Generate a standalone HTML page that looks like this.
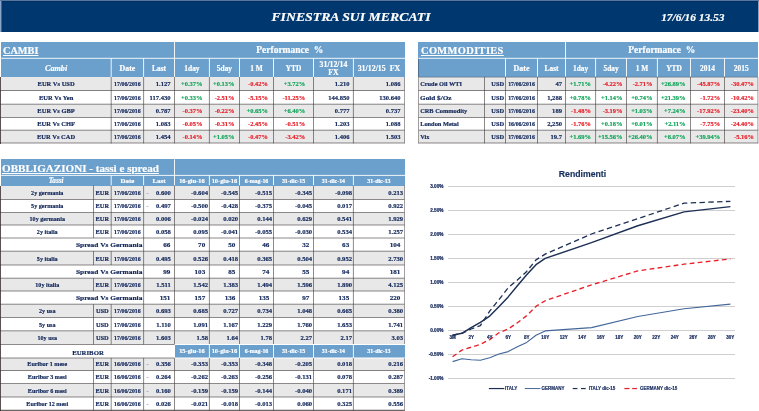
<!DOCTYPE html>
<html><head><meta charset="utf-8"><title>Finestra sui mercati</title>
<style>
html,body{margin:0;padding:0;background:#fff;}
body{width:759px;height:411px;position:relative;overflow:hidden;font-family:"Liberation Serif",serif;font-weight:bold;}
body div{position:absolute;}
.t{white-space:nowrap;overflow:visible;-webkit-text-stroke:0.18px;}
</style></head><body>
<div style="left:0.00px;top:0.00px;width:759.00px;height:1.00px;background:#56779f"></div>
<div style="left:0.00px;top:1.00px;width:1.00px;height:30.60px;background:#8aa5c8"></div>
<div style="left:1.00px;top:1.00px;width:1.00px;height:30.60px;background:#3f6496"></div>
<div style="left:757.50px;top:1.00px;width:1.50px;height:30.60px;background:#86a0c2"></div>
<div style="left:2.00px;top:1.00px;width:755.80px;height:30.70px;background:#00376e"></div>
<div style="left:2.00px;top:1.00px;width:755.80px;height:1.40px;background:#002f5f"></div>
<div style="left:1.20px;top:42.00px;width:403.80px;height:35.00px;background:#6b9fcc"></div>
<div style="left:1.00px;top:77.00px;width:403.50px;height:13.50px;background:#e8e8e8"></div>
<div style="left:1.00px;top:104.20px;width:403.50px;height:13.30px;background:#e8e8e8"></div>
<div style="left:1.00px;top:130.20px;width:403.50px;height:12.80px;background:#e8e8e8"></div>
<div style="left:0.00px;top:77.00px;width:1.00px;height:66.50px;background:#5a5252"></div>
<div style="left:418.20px;top:42.00px;width:340.10px;height:35.00px;background:#6b9fcc"></div>
<div style="left:418.50px;top:77.00px;width:339.40px;height:13.50px;background:#e8e8e8"></div>
<div style="left:418.50px;top:104.20px;width:339.40px;height:13.30px;background:#e8e8e8"></div>
<div style="left:418.50px;top:130.20px;width:339.40px;height:12.80px;background:#e8e8e8"></div>
<div style="left:1.20px;top:159.30px;width:403.80px;height:26.30px;background:#6b9fcc"></div>
<div style="left:1.00px;top:185.60px;width:403.50px;height:13.90px;background:#e8e8e8"></div>
<div style="left:1.00px;top:212.50px;width:403.50px;height:12.50px;background:#e8e8e8"></div>
<div style="left:1.00px;top:251.20px;width:403.50px;height:13.80px;background:#e8e8e8"></div>
<div style="left:1.00px;top:278.20px;width:403.50px;height:12.80px;background:#e8e8e8"></div>
<div style="left:1.00px;top:304.20px;width:403.50px;height:13.30px;background:#e8e8e8"></div>
<div style="left:1.00px;top:330.80px;width:403.50px;height:13.70px;background:#e8e8e8"></div>
<div style="left:174.50px;top:345.00px;width:230.50px;height:12.50px;background:#6b9fcc"></div>
<div style="left:1.00px;top:358.00px;width:403.50px;height:12.50px;background:#e8e8e8"></div>
<div style="left:1.00px;top:383.50px;width:403.50px;height:13.50px;background:#e8e8e8"></div>
<div style="left:0.00px;top:185.60px;width:1.00px;height:225.40px;background:#5a5252"></div>
<div style="left:448.00px;top:186.00px;width:287.00px;height:1.00px;background:#cfcfcf"></div>
<div style="left:448.00px;top:210.00px;width:287.00px;height:1.00px;background:#cfcfcf"></div>
<div style="left:448.00px;top:234.00px;width:287.00px;height:1.00px;background:#cfcfcf"></div>
<div style="left:448.00px;top:258.00px;width:287.00px;height:1.00px;background:#cfcfcf"></div>
<div style="left:448.00px;top:282.00px;width:287.00px;height:1.00px;background:#cfcfcf"></div>
<div style="left:448.00px;top:306.00px;width:287.00px;height:1.00px;background:#cfcfcf"></div>
<div style="left:448.00px;top:330.00px;width:287.00px;height:1.00px;background:#cfcfcf"></div>
<div style="left:448.00px;top:354.00px;width:287.00px;height:1.00px;background:#cfcfcf"></div>
<div style="left:448.00px;top:378.00px;width:287.00px;height:1.00px;background:#cfcfcf"></div>
<svg style="position:absolute;left:0;top:0" width="759" height="411" viewBox="0 0 759 411"><line x1="1.20" x2="405.00" y1="58.30" y2="58.30" stroke="#fff" stroke-width="0.9"/><line x1="174.50" x2="174.50" y1="42.00" y2="58.30" stroke="#fff" stroke-width="0.9"/><line x1="111.20" x2="111.20" y1="58.30" y2="77.00" stroke="#fff" stroke-width="0.9"/><line x1="143.60" x2="143.60" y1="58.30" y2="77.00" stroke="#fff" stroke-width="0.9"/><line x1="174.50" x2="174.50" y1="58.30" y2="77.00" stroke="#fff" stroke-width="0.9"/><line x1="209.40" x2="209.40" y1="58.30" y2="77.00" stroke="#fff" stroke-width="0.9"/><line x1="239.50" x2="239.50" y1="58.30" y2="77.00" stroke="#fff" stroke-width="0.9"/><line x1="273.50" x2="273.50" y1="58.30" y2="77.00" stroke="#fff" stroke-width="0.9"/><line x1="313.50" x2="313.50" y1="58.30" y2="77.00" stroke="#fff" stroke-width="0.9"/><line x1="353.40" x2="353.40" y1="58.30" y2="77.00" stroke="#fff" stroke-width="0.9"/><line x1="0.00" x2="404.90" y1="90.50" y2="90.50" stroke="#3a3333" stroke-width="0.58"/><line x1="0.00" x2="404.90" y1="104.20" y2="104.20" stroke="#3a3333" stroke-width="0.58"/><line x1="0.00" x2="404.90" y1="117.50" y2="117.50" stroke="#3a3333" stroke-width="0.58"/><line x1="0.00" x2="404.90" y1="130.20" y2="130.20" stroke="#3a3333" stroke-width="0.58"/><line x1="0.00" x2="404.90" y1="143.00" y2="143.00" stroke="#3a3333" stroke-width="0.58"/><line x1="111.20" x2="111.20" y1="77.00" y2="143.40" stroke="#3a3333" stroke-width="0.58"/><line x1="143.60" x2="143.60" y1="77.00" y2="143.40" stroke="#3a3333" stroke-width="0.58"/><line x1="174.50" x2="174.50" y1="77.00" y2="143.40" stroke="#3a3333" stroke-width="0.58"/><line x1="209.40" x2="209.40" y1="77.00" y2="143.40" stroke="#3a3333" stroke-width="0.58"/><line x1="239.50" x2="239.50" y1="77.00" y2="143.40" stroke="#3a3333" stroke-width="0.58"/><line x1="273.50" x2="273.50" y1="77.00" y2="143.40" stroke="#3a3333" stroke-width="0.58"/><line x1="313.50" x2="313.50" y1="77.00" y2="143.40" stroke="#3a3333" stroke-width="0.58"/><line x1="353.40" x2="353.40" y1="77.00" y2="143.40" stroke="#3a3333" stroke-width="0.58"/><line x1="404.50" x2="404.50" y1="77.00" y2="143.40" stroke="#7d7676" stroke-width="0.7"/><line x1="418.20" x2="758.30" y1="58.30" y2="58.30" stroke="#fff" stroke-width="0.9"/><line x1="565.50" x2="565.50" y1="42.00" y2="58.30" stroke="#fff" stroke-width="0.9"/><line x1="505.50" x2="505.50" y1="58.30" y2="77.00" stroke="#fff" stroke-width="0.9"/><line x1="537.50" x2="537.50" y1="58.30" y2="77.00" stroke="#fff" stroke-width="0.9"/><line x1="565.50" x2="565.50" y1="58.30" y2="77.00" stroke="#fff" stroke-width="0.9"/><line x1="595.60" x2="595.60" y1="58.30" y2="77.00" stroke="#fff" stroke-width="0.9"/><line x1="626.50" x2="626.50" y1="58.30" y2="77.00" stroke="#fff" stroke-width="0.9"/><line x1="657.40" x2="657.40" y1="58.30" y2="77.00" stroke="#fff" stroke-width="0.9"/><line x1="690.50" x2="690.50" y1="58.30" y2="77.00" stroke="#fff" stroke-width="0.9"/><line x1="724.50" x2="724.50" y1="58.30" y2="77.00" stroke="#fff" stroke-width="0.9"/><line x1="418.50" x2="757.90" y1="77.10" y2="77.10" stroke="#5b6f86" stroke-width="0.7"/><line x1="418.10" x2="758.30" y1="90.50" y2="90.50" stroke="#3a3333" stroke-width="0.58"/><line x1="418.10" x2="758.30" y1="104.20" y2="104.20" stroke="#3a3333" stroke-width="0.58"/><line x1="418.10" x2="758.30" y1="117.50" y2="117.50" stroke="#3a3333" stroke-width="0.58"/><line x1="418.10" x2="758.30" y1="130.20" y2="130.20" stroke="#3a3333" stroke-width="0.58"/><line x1="418.10" x2="758.30" y1="143.00" y2="143.00" stroke="#3a3333" stroke-width="0.58"/><line x1="418.50" x2="418.50" y1="77.00" y2="143.40" stroke="#8a8484" stroke-width="0.8"/><line x1="418.50" x2="418.50" y1="58.80" y2="77.00" stroke="#3c5068" stroke-width="0.6"/><line x1="484.50" x2="484.50" y1="77.00" y2="143.40" stroke="#3a3333" stroke-width="0.58"/><line x1="505.50" x2="505.50" y1="77.00" y2="143.40" stroke="#3a3333" stroke-width="0.58"/><line x1="537.50" x2="537.50" y1="77.00" y2="143.40" stroke="#3a3333" stroke-width="0.58"/><line x1="565.50" x2="565.50" y1="77.00" y2="143.40" stroke="#3a3333" stroke-width="0.58"/><line x1="595.60" x2="595.60" y1="77.00" y2="143.40" stroke="#3a3333" stroke-width="0.58"/><line x1="626.50" x2="626.50" y1="77.00" y2="143.40" stroke="#3a3333" stroke-width="0.58"/><line x1="657.40" x2="657.40" y1="77.00" y2="143.40" stroke="#3a3333" stroke-width="0.58"/><line x1="690.50" x2="690.50" y1="77.00" y2="143.40" stroke="#3a3333" stroke-width="0.58"/><line x1="724.50" x2="724.50" y1="77.00" y2="143.40" stroke="#3a3333" stroke-width="0.58"/><line x1="757.90" x2="757.90" y1="77.00" y2="143.40" stroke="#8a8484" stroke-width="0.8"/><line x1="1.20" x2="405.00" y1="175.40" y2="175.40" stroke="#fff" stroke-width="0.9"/><line x1="174.50" x2="174.50" y1="159.30" y2="175.40" stroke="#fff" stroke-width="0.9"/><line x1="111.20" x2="111.20" y1="175.40" y2="185.60" stroke="#fff" stroke-width="0.9"/><line x1="143.60" x2="143.60" y1="175.40" y2="185.60" stroke="#fff" stroke-width="0.9"/><line x1="174.50" x2="174.50" y1="175.40" y2="185.60" stroke="#fff" stroke-width="0.9"/><line x1="209.40" x2="209.40" y1="175.40" y2="185.60" stroke="#fff" stroke-width="0.9"/><line x1="239.50" x2="239.50" y1="175.40" y2="185.60" stroke="#fff" stroke-width="0.9"/><line x1="273.50" x2="273.50" y1="175.40" y2="185.60" stroke="#fff" stroke-width="0.9"/><line x1="313.50" x2="313.50" y1="175.40" y2="185.60" stroke="#fff" stroke-width="0.9"/><line x1="353.40" x2="353.40" y1="175.40" y2="185.60" stroke="#fff" stroke-width="0.9"/><line x1="0.00" x2="404.90" y1="199.50" y2="199.50" stroke="#3a3333" stroke-width="0.58"/><line x1="93.50" x2="93.50" y1="185.60" y2="199.50" stroke="#3a3333" stroke-width="0.58"/><line x1="111.20" x2="111.20" y1="185.60" y2="199.50" stroke="#3a3333" stroke-width="0.58"/><line x1="143.60" x2="143.60" y1="185.60" y2="199.50" stroke="#3a3333" stroke-width="0.58"/><line x1="174.50" x2="174.50" y1="185.60" y2="199.50" stroke="#3a3333" stroke-width="0.58"/><line x1="209.40" x2="209.40" y1="185.60" y2="199.50" stroke="#3a3333" stroke-width="0.58"/><line x1="239.50" x2="239.50" y1="185.60" y2="199.50" stroke="#3a3333" stroke-width="0.58"/><line x1="273.50" x2="273.50" y1="185.60" y2="199.50" stroke="#3a3333" stroke-width="0.58"/><line x1="313.50" x2="313.50" y1="185.60" y2="199.50" stroke="#3a3333" stroke-width="0.58"/><line x1="353.40" x2="353.40" y1="185.60" y2="199.50" stroke="#3a3333" stroke-width="0.58"/><line x1="404.50" x2="404.50" y1="185.60" y2="199.50" stroke="#7d7676" stroke-width="0.7"/><line x1="0.00" x2="404.90" y1="212.50" y2="212.50" stroke="#3a3333" stroke-width="0.58"/><line x1="93.50" x2="93.50" y1="199.50" y2="212.50" stroke="#3a3333" stroke-width="0.58"/><line x1="111.20" x2="111.20" y1="199.50" y2="212.50" stroke="#3a3333" stroke-width="0.58"/><line x1="143.60" x2="143.60" y1="199.50" y2="212.50" stroke="#3a3333" stroke-width="0.58"/><line x1="174.50" x2="174.50" y1="199.50" y2="212.50" stroke="#3a3333" stroke-width="0.58"/><line x1="209.40" x2="209.40" y1="199.50" y2="212.50" stroke="#3a3333" stroke-width="0.58"/><line x1="239.50" x2="239.50" y1="199.50" y2="212.50" stroke="#3a3333" stroke-width="0.58"/><line x1="273.50" x2="273.50" y1="199.50" y2="212.50" stroke="#3a3333" stroke-width="0.58"/><line x1="313.50" x2="313.50" y1="199.50" y2="212.50" stroke="#3a3333" stroke-width="0.58"/><line x1="353.40" x2="353.40" y1="199.50" y2="212.50" stroke="#3a3333" stroke-width="0.58"/><line x1="404.50" x2="404.50" y1="199.50" y2="212.50" stroke="#7d7676" stroke-width="0.7"/><line x1="0.00" x2="404.90" y1="225.00" y2="225.00" stroke="#3a3333" stroke-width="0.58"/><line x1="93.50" x2="93.50" y1="212.50" y2="225.00" stroke="#3a3333" stroke-width="0.58"/><line x1="111.20" x2="111.20" y1="212.50" y2="225.00" stroke="#3a3333" stroke-width="0.58"/><line x1="143.60" x2="143.60" y1="212.50" y2="225.00" stroke="#3a3333" stroke-width="0.58"/><line x1="174.50" x2="174.50" y1="212.50" y2="225.00" stroke="#3a3333" stroke-width="0.58"/><line x1="209.40" x2="209.40" y1="212.50" y2="225.00" stroke="#3a3333" stroke-width="0.58"/><line x1="239.50" x2="239.50" y1="212.50" y2="225.00" stroke="#3a3333" stroke-width="0.58"/><line x1="273.50" x2="273.50" y1="212.50" y2="225.00" stroke="#3a3333" stroke-width="0.58"/><line x1="313.50" x2="313.50" y1="212.50" y2="225.00" stroke="#3a3333" stroke-width="0.58"/><line x1="353.40" x2="353.40" y1="212.50" y2="225.00" stroke="#3a3333" stroke-width="0.58"/><line x1="404.50" x2="404.50" y1="212.50" y2="225.00" stroke="#7d7676" stroke-width="0.7"/><line x1="0.00" x2="404.90" y1="238.00" y2="238.00" stroke="#3a3333" stroke-width="0.58"/><line x1="93.50" x2="93.50" y1="225.00" y2="238.00" stroke="#3a3333" stroke-width="0.58"/><line x1="111.20" x2="111.20" y1="225.00" y2="238.00" stroke="#3a3333" stroke-width="0.58"/><line x1="143.60" x2="143.60" y1="225.00" y2="238.00" stroke="#3a3333" stroke-width="0.58"/><line x1="174.50" x2="174.50" y1="225.00" y2="238.00" stroke="#3a3333" stroke-width="0.58"/><line x1="209.40" x2="209.40" y1="225.00" y2="238.00" stroke="#3a3333" stroke-width="0.58"/><line x1="239.50" x2="239.50" y1="225.00" y2="238.00" stroke="#3a3333" stroke-width="0.58"/><line x1="273.50" x2="273.50" y1="225.00" y2="238.00" stroke="#3a3333" stroke-width="0.58"/><line x1="313.50" x2="313.50" y1="225.00" y2="238.00" stroke="#3a3333" stroke-width="0.58"/><line x1="353.40" x2="353.40" y1="225.00" y2="238.00" stroke="#3a3333" stroke-width="0.58"/><line x1="404.50" x2="404.50" y1="225.00" y2="238.00" stroke="#7d7676" stroke-width="0.7"/><line x1="0.00" x2="404.90" y1="251.20" y2="251.20" stroke="#3a3333" stroke-width="0.58"/><line x1="143.60" x2="143.60" y1="238.00" y2="251.20" stroke="#3a3333" stroke-width="0.58"/><line x1="174.50" x2="174.50" y1="238.00" y2="251.20" stroke="#3a3333" stroke-width="0.58"/><line x1="209.40" x2="209.40" y1="238.00" y2="251.20" stroke="#3a3333" stroke-width="0.58"/><line x1="239.50" x2="239.50" y1="238.00" y2="251.20" stroke="#3a3333" stroke-width="0.58"/><line x1="273.50" x2="273.50" y1="238.00" y2="251.20" stroke="#3a3333" stroke-width="0.58"/><line x1="313.50" x2="313.50" y1="238.00" y2="251.20" stroke="#3a3333" stroke-width="0.58"/><line x1="353.40" x2="353.40" y1="238.00" y2="251.20" stroke="#3a3333" stroke-width="0.58"/><line x1="404.50" x2="404.50" y1="238.00" y2="251.20" stroke="#7d7676" stroke-width="0.7"/><line x1="0.00" x2="404.90" y1="265.00" y2="265.00" stroke="#3a3333" stroke-width="0.58"/><line x1="93.50" x2="93.50" y1="251.20" y2="265.00" stroke="#3a3333" stroke-width="0.58"/><line x1="111.20" x2="111.20" y1="251.20" y2="265.00" stroke="#3a3333" stroke-width="0.58"/><line x1="143.60" x2="143.60" y1="251.20" y2="265.00" stroke="#3a3333" stroke-width="0.58"/><line x1="174.50" x2="174.50" y1="251.20" y2="265.00" stroke="#3a3333" stroke-width="0.58"/><line x1="209.40" x2="209.40" y1="251.20" y2="265.00" stroke="#3a3333" stroke-width="0.58"/><line x1="239.50" x2="239.50" y1="251.20" y2="265.00" stroke="#3a3333" stroke-width="0.58"/><line x1="273.50" x2="273.50" y1="251.20" y2="265.00" stroke="#3a3333" stroke-width="0.58"/><line x1="313.50" x2="313.50" y1="251.20" y2="265.00" stroke="#3a3333" stroke-width="0.58"/><line x1="353.40" x2="353.40" y1="251.20" y2="265.00" stroke="#3a3333" stroke-width="0.58"/><line x1="404.50" x2="404.50" y1="251.20" y2="265.00" stroke="#7d7676" stroke-width="0.7"/><line x1="0.00" x2="404.90" y1="278.20" y2="278.20" stroke="#3a3333" stroke-width="0.58"/><line x1="143.60" x2="143.60" y1="265.00" y2="278.20" stroke="#3a3333" stroke-width="0.58"/><line x1="174.50" x2="174.50" y1="265.00" y2="278.20" stroke="#3a3333" stroke-width="0.58"/><line x1="209.40" x2="209.40" y1="265.00" y2="278.20" stroke="#3a3333" stroke-width="0.58"/><line x1="239.50" x2="239.50" y1="265.00" y2="278.20" stroke="#3a3333" stroke-width="0.58"/><line x1="273.50" x2="273.50" y1="265.00" y2="278.20" stroke="#3a3333" stroke-width="0.58"/><line x1="313.50" x2="313.50" y1="265.00" y2="278.20" stroke="#3a3333" stroke-width="0.58"/><line x1="353.40" x2="353.40" y1="265.00" y2="278.20" stroke="#3a3333" stroke-width="0.58"/><line x1="404.50" x2="404.50" y1="265.00" y2="278.20" stroke="#7d7676" stroke-width="0.7"/><line x1="0.00" x2="404.90" y1="291.00" y2="291.00" stroke="#3a3333" stroke-width="0.58"/><line x1="93.50" x2="93.50" y1="278.20" y2="291.00" stroke="#3a3333" stroke-width="0.58"/><line x1="111.20" x2="111.20" y1="278.20" y2="291.00" stroke="#3a3333" stroke-width="0.58"/><line x1="143.60" x2="143.60" y1="278.20" y2="291.00" stroke="#3a3333" stroke-width="0.58"/><line x1="174.50" x2="174.50" y1="278.20" y2="291.00" stroke="#3a3333" stroke-width="0.58"/><line x1="209.40" x2="209.40" y1="278.20" y2="291.00" stroke="#3a3333" stroke-width="0.58"/><line x1="239.50" x2="239.50" y1="278.20" y2="291.00" stroke="#3a3333" stroke-width="0.58"/><line x1="273.50" x2="273.50" y1="278.20" y2="291.00" stroke="#3a3333" stroke-width="0.58"/><line x1="313.50" x2="313.50" y1="278.20" y2="291.00" stroke="#3a3333" stroke-width="0.58"/><line x1="353.40" x2="353.40" y1="278.20" y2="291.00" stroke="#3a3333" stroke-width="0.58"/><line x1="404.50" x2="404.50" y1="278.20" y2="291.00" stroke="#7d7676" stroke-width="0.7"/><line x1="0.00" x2="404.90" y1="304.20" y2="304.20" stroke="#3a3333" stroke-width="0.58"/><line x1="143.60" x2="143.60" y1="291.00" y2="304.20" stroke="#3a3333" stroke-width="0.58"/><line x1="174.50" x2="174.50" y1="291.00" y2="304.20" stroke="#3a3333" stroke-width="0.58"/><line x1="209.40" x2="209.40" y1="291.00" y2="304.20" stroke="#3a3333" stroke-width="0.58"/><line x1="239.50" x2="239.50" y1="291.00" y2="304.20" stroke="#3a3333" stroke-width="0.58"/><line x1="273.50" x2="273.50" y1="291.00" y2="304.20" stroke="#3a3333" stroke-width="0.58"/><line x1="313.50" x2="313.50" y1="291.00" y2="304.20" stroke="#3a3333" stroke-width="0.58"/><line x1="353.40" x2="353.40" y1="291.00" y2="304.20" stroke="#3a3333" stroke-width="0.58"/><line x1="404.50" x2="404.50" y1="291.00" y2="304.20" stroke="#7d7676" stroke-width="0.7"/><line x1="0.00" x2="404.90" y1="317.50" y2="317.50" stroke="#3a3333" stroke-width="0.58"/><line x1="93.50" x2="93.50" y1="304.20" y2="317.50" stroke="#3a3333" stroke-width="0.58"/><line x1="111.20" x2="111.20" y1="304.20" y2="317.50" stroke="#3a3333" stroke-width="0.58"/><line x1="143.60" x2="143.60" y1="304.20" y2="317.50" stroke="#3a3333" stroke-width="0.58"/><line x1="174.50" x2="174.50" y1="304.20" y2="317.50" stroke="#3a3333" stroke-width="0.58"/><line x1="209.40" x2="209.40" y1="304.20" y2="317.50" stroke="#3a3333" stroke-width="0.58"/><line x1="239.50" x2="239.50" y1="304.20" y2="317.50" stroke="#3a3333" stroke-width="0.58"/><line x1="273.50" x2="273.50" y1="304.20" y2="317.50" stroke="#3a3333" stroke-width="0.58"/><line x1="313.50" x2="313.50" y1="304.20" y2="317.50" stroke="#3a3333" stroke-width="0.58"/><line x1="353.40" x2="353.40" y1="304.20" y2="317.50" stroke="#3a3333" stroke-width="0.58"/><line x1="404.50" x2="404.50" y1="304.20" y2="317.50" stroke="#7d7676" stroke-width="0.7"/><line x1="0.00" x2="404.90" y1="330.80" y2="330.80" stroke="#3a3333" stroke-width="0.58"/><line x1="93.50" x2="93.50" y1="317.50" y2="330.80" stroke="#3a3333" stroke-width="0.58"/><line x1="111.20" x2="111.20" y1="317.50" y2="330.80" stroke="#3a3333" stroke-width="0.58"/><line x1="143.60" x2="143.60" y1="317.50" y2="330.80" stroke="#3a3333" stroke-width="0.58"/><line x1="174.50" x2="174.50" y1="317.50" y2="330.80" stroke="#3a3333" stroke-width="0.58"/><line x1="209.40" x2="209.40" y1="317.50" y2="330.80" stroke="#3a3333" stroke-width="0.58"/><line x1="239.50" x2="239.50" y1="317.50" y2="330.80" stroke="#3a3333" stroke-width="0.58"/><line x1="273.50" x2="273.50" y1="317.50" y2="330.80" stroke="#3a3333" stroke-width="0.58"/><line x1="313.50" x2="313.50" y1="317.50" y2="330.80" stroke="#3a3333" stroke-width="0.58"/><line x1="353.40" x2="353.40" y1="317.50" y2="330.80" stroke="#3a3333" stroke-width="0.58"/><line x1="404.50" x2="404.50" y1="317.50" y2="330.80" stroke="#7d7676" stroke-width="0.7"/><line x1="93.50" x2="93.50" y1="330.80" y2="344.50" stroke="#3a3333" stroke-width="0.58"/><line x1="111.20" x2="111.20" y1="330.80" y2="344.50" stroke="#3a3333" stroke-width="0.58"/><line x1="143.60" x2="143.60" y1="330.80" y2="344.50" stroke="#3a3333" stroke-width="0.58"/><line x1="174.50" x2="174.50" y1="330.80" y2="344.50" stroke="#3a3333" stroke-width="0.58"/><line x1="209.40" x2="209.40" y1="330.80" y2="344.50" stroke="#3a3333" stroke-width="0.58"/><line x1="239.50" x2="239.50" y1="330.80" y2="344.50" stroke="#3a3333" stroke-width="0.58"/><line x1="273.50" x2="273.50" y1="330.80" y2="344.50" stroke="#3a3333" stroke-width="0.58"/><line x1="313.50" x2="313.50" y1="330.80" y2="344.50" stroke="#3a3333" stroke-width="0.58"/><line x1="353.40" x2="353.40" y1="330.80" y2="344.50" stroke="#3a3333" stroke-width="0.58"/><line x1="404.50" x2="404.50" y1="330.80" y2="344.50" stroke="#7d7676" stroke-width="0.7"/><line x1="174.50" x2="405.00" y1="344.50" y2="344.50" stroke="#fff" stroke-width="1.0"/><line x1="174.50" x2="405.00" y1="358.00" y2="358.00" stroke="#fff" stroke-width="1.0"/><line x1="0.00" x2="174.50" y1="344.50" y2="344.50" stroke="#3a3333" stroke-width="0.58"/><line x1="0.00" x2="174.50" y1="358.00" y2="358.00" stroke="#3a3333" stroke-width="0.58"/><line x1="209.40" x2="209.40" y1="344.50" y2="358.00" stroke="#fff" stroke-width="0.9"/><line x1="239.50" x2="239.50" y1="344.50" y2="358.00" stroke="#fff" stroke-width="0.9"/><line x1="273.50" x2="273.50" y1="344.50" y2="358.00" stroke="#fff" stroke-width="0.9"/><line x1="313.50" x2="313.50" y1="344.50" y2="358.00" stroke="#fff" stroke-width="0.9"/><line x1="353.40" x2="353.40" y1="344.50" y2="358.00" stroke="#fff" stroke-width="0.9"/><line x1="0.00" x2="404.90" y1="370.50" y2="370.50" stroke="#3a3333" stroke-width="0.58"/><line x1="93.50" x2="93.50" y1="358.00" y2="370.50" stroke="#3a3333" stroke-width="0.58"/><line x1="111.20" x2="111.20" y1="358.00" y2="370.50" stroke="#3a3333" stroke-width="0.58"/><line x1="143.60" x2="143.60" y1="358.00" y2="370.50" stroke="#3a3333" stroke-width="0.58"/><line x1="174.50" x2="174.50" y1="358.00" y2="370.50" stroke="#3a3333" stroke-width="0.58"/><line x1="209.40" x2="209.40" y1="358.00" y2="370.50" stroke="#3a3333" stroke-width="0.58"/><line x1="239.50" x2="239.50" y1="358.00" y2="370.50" stroke="#3a3333" stroke-width="0.58"/><line x1="273.50" x2="273.50" y1="358.00" y2="370.50" stroke="#3a3333" stroke-width="0.58"/><line x1="313.50" x2="313.50" y1="358.00" y2="370.50" stroke="#3a3333" stroke-width="0.58"/><line x1="353.40" x2="353.40" y1="358.00" y2="370.50" stroke="#3a3333" stroke-width="0.58"/><line x1="404.50" x2="404.50" y1="358.00" y2="370.50" stroke="#7d7676" stroke-width="0.7"/><line x1="0.00" x2="404.90" y1="383.50" y2="383.50" stroke="#3a3333" stroke-width="0.58"/><line x1="93.50" x2="93.50" y1="370.50" y2="383.50" stroke="#3a3333" stroke-width="0.58"/><line x1="111.20" x2="111.20" y1="370.50" y2="383.50" stroke="#3a3333" stroke-width="0.58"/><line x1="143.60" x2="143.60" y1="370.50" y2="383.50" stroke="#3a3333" stroke-width="0.58"/><line x1="174.50" x2="174.50" y1="370.50" y2="383.50" stroke="#3a3333" stroke-width="0.58"/><line x1="209.40" x2="209.40" y1="370.50" y2="383.50" stroke="#3a3333" stroke-width="0.58"/><line x1="239.50" x2="239.50" y1="370.50" y2="383.50" stroke="#3a3333" stroke-width="0.58"/><line x1="273.50" x2="273.50" y1="370.50" y2="383.50" stroke="#3a3333" stroke-width="0.58"/><line x1="313.50" x2="313.50" y1="370.50" y2="383.50" stroke="#3a3333" stroke-width="0.58"/><line x1="353.40" x2="353.40" y1="370.50" y2="383.50" stroke="#3a3333" stroke-width="0.58"/><line x1="404.50" x2="404.50" y1="370.50" y2="383.50" stroke="#7d7676" stroke-width="0.7"/><line x1="0.00" x2="404.90" y1="397.00" y2="397.00" stroke="#3a3333" stroke-width="0.58"/><line x1="93.50" x2="93.50" y1="383.50" y2="397.00" stroke="#3a3333" stroke-width="0.58"/><line x1="111.20" x2="111.20" y1="383.50" y2="397.00" stroke="#3a3333" stroke-width="0.58"/><line x1="143.60" x2="143.60" y1="383.50" y2="397.00" stroke="#3a3333" stroke-width="0.58"/><line x1="174.50" x2="174.50" y1="383.50" y2="397.00" stroke="#3a3333" stroke-width="0.58"/><line x1="209.40" x2="209.40" y1="383.50" y2="397.00" stroke="#3a3333" stroke-width="0.58"/><line x1="239.50" x2="239.50" y1="383.50" y2="397.00" stroke="#3a3333" stroke-width="0.58"/><line x1="273.50" x2="273.50" y1="383.50" y2="397.00" stroke="#3a3333" stroke-width="0.58"/><line x1="313.50" x2="313.50" y1="383.50" y2="397.00" stroke="#3a3333" stroke-width="0.58"/><line x1="353.40" x2="353.40" y1="383.50" y2="397.00" stroke="#3a3333" stroke-width="0.58"/><line x1="404.50" x2="404.50" y1="383.50" y2="397.00" stroke="#7d7676" stroke-width="0.7"/><line x1="0.00" x2="404.90" y1="410.30" y2="410.30" stroke="#3a3333" stroke-width="0.95"/><line x1="93.50" x2="93.50" y1="397.00" y2="410.30" stroke="#3a3333" stroke-width="0.58"/><line x1="111.20" x2="111.20" y1="397.00" y2="410.30" stroke="#3a3333" stroke-width="0.58"/><line x1="143.60" x2="143.60" y1="397.00" y2="410.30" stroke="#3a3333" stroke-width="0.58"/><line x1="174.50" x2="174.50" y1="397.00" y2="410.30" stroke="#3a3333" stroke-width="0.58"/><line x1="209.40" x2="209.40" y1="397.00" y2="410.30" stroke="#3a3333" stroke-width="0.58"/><line x1="239.50" x2="239.50" y1="397.00" y2="410.30" stroke="#3a3333" stroke-width="0.58"/><line x1="273.50" x2="273.50" y1="397.00" y2="410.30" stroke="#3a3333" stroke-width="0.58"/><line x1="313.50" x2="313.50" y1="397.00" y2="410.30" stroke="#3a3333" stroke-width="0.58"/><line x1="353.40" x2="353.40" y1="397.00" y2="410.30" stroke="#3a3333" stroke-width="0.58"/><line x1="404.50" x2="404.50" y1="397.00" y2="410.30" stroke="#7d7676" stroke-width="0.7"/><polyline points="452.6,361.6 461.9,358.8 471.1,359.7 480.4,360.2 489.7,357.8 498.9,354.0 508.2,351.6 517.4,346.8 526.7,342.4 536.0,335.2 545.2,330.9 591.5,327.6 637.8,316.5 684.1,308.8 730.4,304.1" fill="none" stroke="#43679a" stroke-width="1.15" stroke-linejoin="round"/><polyline points="452.6,356.8 461.9,350.1 471.1,347.2 480.4,344.4 489.7,339.6 498.9,332.8 508.2,329.0 517.4,322.8 526.7,315.6 536.0,306.4 545.2,300.7 591.5,284.9 637.8,270.9 684.1,264.2 730.4,258.9" fill="none" stroke="#e8202a" stroke-width="1.35" stroke-linejoin="round" stroke-dasharray="4.8 3.3"/><polyline points="452.6,335.2 461.9,333.3 471.1,329.0 480.4,325.6 489.7,311.2 498.9,299.7 508.2,287.7 517.4,280.0 526.7,271.4 536.0,259.9 545.2,254.1 591.5,234.0 637.8,218.6 684.1,203.2 730.4,201.3" fill="none" stroke="#1d2f55" stroke-width="1.3" stroke-linejoin="round" stroke-dasharray="5.4 3.4"/><polyline points="452.6,335.2 461.9,333.3 471.1,327.6 480.4,322.3 489.7,316.1 498.9,306.7 508.2,296.9 517.4,285.8 526.7,274.8 536.0,264.7 545.2,258.4 591.5,242.6 637.8,225.8 684.1,211.9 730.4,206.6" fill="none" stroke="#1d2f55" stroke-width="1.45" stroke-linejoin="round"/><line x1="488.9" x2="504.3" y1="388.54999999999995" y2="388.54999999999995" stroke="#1d2f55" stroke-width="1.2"/><line x1="524.8" x2="540.3" y1="388.54999999999995" y2="388.54999999999995" stroke="#43679a" stroke-width="1.0"/><line x1="572.7" x2="577.4" y1="388.54999999999995" y2="388.54999999999995" stroke="#1d2f55" stroke-width="1.2"/><line x1="581.0" x2="585.7" y1="388.54999999999995" y2="388.54999999999995" stroke="#1d2f55" stroke-width="1.2"/><line x1="624.4" x2="629.4" y1="388.54999999999995" y2="388.54999999999995" stroke="#e8202a" stroke-width="1.25"/><line x1="632.2" x2="636.9" y1="388.54999999999995" y2="388.54999999999995" stroke="#e8202a" stroke-width="1.25"/></svg>
<div id="tx" style="left:0;top:0;width:759px;height:411px;filter:blur(0.4px);">
<div class="t" style="left:250.60px;top:7.00px;width:200.00px;height:20.00px;line-height:20.00px;font-size:12.2px;color:#fff;text-align:center;transform:scaleX(1.13);transform-origin:center center;font-style:italic;">FINESTRA SUI MERCATI</div>
<div class="t" style="left:642.80px;top:7.00px;width:100.00px;height:20.00px;line-height:20.00px;font-size:11.4px;color:#fff;text-align:center;font-style:italic;">17/6/16 13.53</div>
<div class="t" style="left:2.80px;top:43.90px;width:117.20px;height:14.00px;line-height:14.00px;font-size:9.9px;color:#fff;text-align:left;transform:scaleX(1.04);transform-origin:left center;text-decoration:underline;text-underline-offset:1.2px;text-decoration-thickness:0.8px;">CAMBI</div>
<div class="t" style="left:174.50px;top:43.20px;width:230.50px;height:14.00px;line-height:14.00px;font-size:9.5px;color:#fff;text-align:center;">Performance&nbsp; %</div>
<div class="t" style="left:1.00px;top:61.60px;width:110.20px;height:14.00px;line-height:14.00px;font-size:8.2px;color:#fff;text-align:center;"><i>Cambi</i></div>
<div class="t" style="left:111.20px;top:61.60px;width:32.40px;height:14.00px;line-height:14.00px;font-size:7.9px;color:#fff;text-align:center;">Date</div>
<div class="t" style="left:143.60px;top:61.60px;width:30.90px;height:14.00px;line-height:14.00px;font-size:7.4px;color:#fff;text-align:center;">Last</div>
<div class="t" style="left:174.50px;top:61.60px;width:34.90px;height:14.00px;line-height:14.00px;font-size:7.4px;color:#fff;text-align:center;">1day</div>
<div class="t" style="left:209.40px;top:61.60px;width:30.10px;height:14.00px;line-height:14.00px;font-size:7.4px;color:#fff;text-align:center;">5day</div>
<div class="t" style="left:239.50px;top:61.60px;width:34.00px;height:14.00px;line-height:14.00px;font-size:7.4px;color:#fff;text-align:center;">1 M</div>
<div class="t" style="left:273.50px;top:61.60px;width:40.00px;height:14.00px;line-height:14.00px;font-size:7.4px;color:#fff;text-align:center;">YTD</div>
<div class="t" style="left:353.40px;top:61.60px;width:51.10px;height:14.00px;line-height:14.00px;font-size:7.9px;color:#fff;text-align:center;">31/12/15&nbsp; FX</div>
<div class="t" style="left:313.50px;top:60.6px;width:39.90px;height:18px;line-height:8.7px;font-size:7.8px;color:#fff;text-align:center;">31/12/14<br>FX</div>
<div class="t" style="left:1.00px;top:78.26px;width:110.20px;height:12.00px;line-height:12.00px;font-size:6.5px;color:#12275a;text-align:center;">EUR Vs USD</div>
<div class="t" style="left:111.20px;top:78.48px;width:32.40px;height:12.00px;line-height:12.00px;font-size:5.85px;color:#12275a;text-align:center;">17/06/2016</div>
<div class="t" style="left:143.60px;top:78.22px;width:27.00px;height:12.00px;line-height:12.00px;font-size:6.6px;color:#12275a;text-align:right;">1.127</div>
<div class="t" style="left:174.50px;top:78.27px;width:27.90px;height:12.00px;line-height:12.00px;font-size:6.45px;color:#12a65a;text-align:right;">+0.37%</div>
<div class="t" style="left:209.40px;top:78.27px;width:25.10px;height:12.00px;line-height:12.00px;font-size:6.45px;color:#12a65a;text-align:right;">+0.13%</div>
<div class="t" style="left:239.50px;top:78.27px;width:28.40px;height:12.00px;line-height:12.00px;font-size:6.45px;color:#e8202a;text-align:right;">-0.42%</div>
<div class="t" style="left:273.50px;top:78.27px;width:31.60px;height:12.00px;line-height:12.00px;font-size:6.45px;color:#12a65a;text-align:right;">+3.72%</div>
<div class="t" style="left:313.50px;top:78.26px;width:35.90px;height:12.00px;line-height:12.00px;font-size:6.5px;color:#12275a;text-align:right;">1.210</div>
<div class="t" style="left:353.40px;top:78.26px;width:47.10px;height:12.00px;line-height:12.00px;font-size:6.5px;color:#12275a;text-align:right;">1.086</div>
<div class="t" style="left:1.00px;top:91.96px;width:110.20px;height:12.00px;line-height:12.00px;font-size:6.5px;color:#12275a;text-align:center;">EUR Vs Yen</div>
<div class="t" style="left:111.20px;top:92.18px;width:32.40px;height:12.00px;line-height:12.00px;font-size:5.85px;color:#12275a;text-align:center;">17/06/2016</div>
<div class="t" style="left:143.60px;top:91.92px;width:27.00px;height:12.00px;line-height:12.00px;font-size:6.6px;color:#12275a;text-align:right;">117.430</div>
<div class="t" style="left:174.50px;top:91.97px;width:27.90px;height:12.00px;line-height:12.00px;font-size:6.45px;color:#12a65a;text-align:right;">+0.33%</div>
<div class="t" style="left:209.40px;top:91.97px;width:25.10px;height:12.00px;line-height:12.00px;font-size:6.45px;color:#e8202a;text-align:right;">-2.51%</div>
<div class="t" style="left:239.50px;top:91.97px;width:28.40px;height:12.00px;line-height:12.00px;font-size:6.45px;color:#e8202a;text-align:right;">-5.15%</div>
<div class="t" style="left:273.50px;top:91.97px;width:31.60px;height:12.00px;line-height:12.00px;font-size:6.45px;color:#e8202a;text-align:right;">-11.25%</div>
<div class="t" style="left:313.50px;top:91.96px;width:35.90px;height:12.00px;line-height:12.00px;font-size:6.5px;color:#12275a;text-align:right;">144.850</div>
<div class="t" style="left:353.40px;top:91.96px;width:47.10px;height:12.00px;line-height:12.00px;font-size:6.5px;color:#12275a;text-align:right;">130.640</div>
<div class="t" style="left:1.00px;top:105.26px;width:110.20px;height:12.00px;line-height:12.00px;font-size:6.5px;color:#12275a;text-align:center;">EUR Vs GBP</div>
<div class="t" style="left:111.20px;top:105.48px;width:32.40px;height:12.00px;line-height:12.00px;font-size:5.85px;color:#12275a;text-align:center;">17/06/2016</div>
<div class="t" style="left:143.60px;top:105.22px;width:27.00px;height:12.00px;line-height:12.00px;font-size:6.6px;color:#12275a;text-align:right;">0.787</div>
<div class="t" style="left:174.50px;top:105.27px;width:27.90px;height:12.00px;line-height:12.00px;font-size:6.45px;color:#e8202a;text-align:right;">-0.37%</div>
<div class="t" style="left:209.40px;top:105.27px;width:25.10px;height:12.00px;line-height:12.00px;font-size:6.45px;color:#e8202a;text-align:right;">-0.22%</div>
<div class="t" style="left:239.50px;top:105.27px;width:28.40px;height:12.00px;line-height:12.00px;font-size:6.45px;color:#12a65a;text-align:right;">+0.65%</div>
<div class="t" style="left:273.50px;top:105.27px;width:31.60px;height:12.00px;line-height:12.00px;font-size:6.45px;color:#12a65a;text-align:right;">+6.40%</div>
<div class="t" style="left:313.50px;top:105.26px;width:35.90px;height:12.00px;line-height:12.00px;font-size:6.5px;color:#12275a;text-align:right;">0.777</div>
<div class="t" style="left:353.40px;top:105.26px;width:47.10px;height:12.00px;line-height:12.00px;font-size:6.5px;color:#12275a;text-align:right;">0.737</div>
<div class="t" style="left:1.00px;top:117.96px;width:110.20px;height:12.00px;line-height:12.00px;font-size:6.5px;color:#12275a;text-align:center;">EUR Vs CHF</div>
<div class="t" style="left:111.20px;top:118.18px;width:32.40px;height:12.00px;line-height:12.00px;font-size:5.85px;color:#12275a;text-align:center;">17/06/2016</div>
<div class="t" style="left:143.60px;top:117.92px;width:27.00px;height:12.00px;line-height:12.00px;font-size:6.6px;color:#12275a;text-align:right;">1.083</div>
<div class="t" style="left:174.50px;top:117.97px;width:27.90px;height:12.00px;line-height:12.00px;font-size:6.45px;color:#e8202a;text-align:right;">-0.05%</div>
<div class="t" style="left:209.40px;top:117.97px;width:25.10px;height:12.00px;line-height:12.00px;font-size:6.45px;color:#e8202a;text-align:right;">-0.31%</div>
<div class="t" style="left:239.50px;top:117.97px;width:28.40px;height:12.00px;line-height:12.00px;font-size:6.45px;color:#e8202a;text-align:right;">-2.45%</div>
<div class="t" style="left:273.50px;top:117.97px;width:31.60px;height:12.00px;line-height:12.00px;font-size:6.45px;color:#e8202a;text-align:right;">-0.51%</div>
<div class="t" style="left:313.50px;top:117.96px;width:35.90px;height:12.00px;line-height:12.00px;font-size:6.5px;color:#12275a;text-align:right;">1.203</div>
<div class="t" style="left:353.40px;top:117.96px;width:47.10px;height:12.00px;line-height:12.00px;font-size:6.5px;color:#12275a;text-align:right;">1.088</div>
<div class="t" style="left:1.00px;top:130.76px;width:110.20px;height:12.00px;line-height:12.00px;font-size:6.5px;color:#12275a;text-align:center;">EUR Vs CAD</div>
<div class="t" style="left:111.20px;top:130.98px;width:32.40px;height:12.00px;line-height:12.00px;font-size:5.85px;color:#12275a;text-align:center;">17/06/2016</div>
<div class="t" style="left:143.60px;top:130.72px;width:27.00px;height:12.00px;line-height:12.00px;font-size:6.6px;color:#12275a;text-align:right;">1.454</div>
<div class="t" style="left:174.50px;top:130.77px;width:27.90px;height:12.00px;line-height:12.00px;font-size:6.45px;color:#e8202a;text-align:right;">-0.14%</div>
<div class="t" style="left:209.40px;top:130.77px;width:25.10px;height:12.00px;line-height:12.00px;font-size:6.45px;color:#12a65a;text-align:right;">+1.05%</div>
<div class="t" style="left:239.50px;top:130.77px;width:28.40px;height:12.00px;line-height:12.00px;font-size:6.45px;color:#e8202a;text-align:right;">-0.47%</div>
<div class="t" style="left:273.50px;top:130.77px;width:31.60px;height:12.00px;line-height:12.00px;font-size:6.45px;color:#e8202a;text-align:right;">-3.42%</div>
<div class="t" style="left:313.50px;top:130.76px;width:35.90px;height:12.00px;line-height:12.00px;font-size:6.5px;color:#12275a;text-align:right;">1.406</div>
<div class="t" style="left:353.40px;top:130.76px;width:47.10px;height:12.00px;line-height:12.00px;font-size:6.5px;color:#12275a;text-align:right;">1.503</div>
<div class="t" style="left:420.60px;top:43.90px;width:149.40px;height:14.00px;line-height:14.00px;font-size:9.9px;color:#fff;text-align:left;transform:scaleX(1.055);transform-origin:left center;text-decoration:underline;text-underline-offset:1.2px;text-decoration-thickness:0.8px;letter-spacing:0.35px;">COMMODITIES</div>
<div class="t" style="left:565.50px;top:43.20px;width:192.50px;height:14.00px;line-height:14.00px;font-size:9.5px;color:#fff;text-align:center;">Performance&nbsp; %</div>
<div class="t" style="left:505.50px;top:61.60px;width:32.00px;height:14.00px;line-height:14.00px;font-size:7.9px;color:#fff;text-align:center;">Date</div>
<div class="t" style="left:537.50px;top:61.60px;width:28.00px;height:14.00px;line-height:14.00px;font-size:7.4px;color:#fff;text-align:center;">Last</div>
<div class="t" style="left:565.50px;top:61.60px;width:30.10px;height:14.00px;line-height:14.00px;font-size:7.4px;color:#fff;text-align:center;">1day</div>
<div class="t" style="left:595.60px;top:61.60px;width:30.90px;height:14.00px;line-height:14.00px;font-size:7.4px;color:#fff;text-align:center;">5day</div>
<div class="t" style="left:626.50px;top:61.60px;width:30.90px;height:14.00px;line-height:14.00px;font-size:7.4px;color:#fff;text-align:center;">1 M</div>
<div class="t" style="left:657.40px;top:61.60px;width:33.10px;height:14.00px;line-height:14.00px;font-size:7.4px;color:#fff;text-align:center;">YTD</div>
<div class="t" style="left:690.50px;top:61.60px;width:34.00px;height:14.00px;line-height:14.00px;font-size:7.4px;color:#fff;text-align:center;">2014</div>
<div class="t" style="left:724.50px;top:61.60px;width:33.40px;height:14.00px;line-height:14.00px;font-size:7.4px;color:#fff;text-align:center;">2015</div>
<div class="t" style="left:420.20px;top:78.31px;width:64.30px;height:12.00px;line-height:12.00px;font-size:6.35px;color:#12275a;text-align:left;">Crude Oil WTI</div>
<div class="t" style="left:484.50px;top:78.29px;width:19.60px;height:12.00px;line-height:12.00px;font-size:6.4px;color:#12275a;text-align:right;">USD</div>
<div class="t" style="left:505.50px;top:78.48px;width:32.00px;height:12.00px;line-height:12.00px;font-size:5.85px;color:#12275a;text-align:center;">17/06/2016</div>
<div class="t" style="left:537.50px;top:78.22px;width:24.50px;height:12.00px;line-height:12.00px;font-size:6.6px;color:#12275a;text-align:right;">47</div>
<div class="t" style="left:565.50px;top:78.27px;width:25.40px;height:12.00px;line-height:12.00px;font-size:6.45px;color:#12a65a;text-align:right;">+1.71%</div>
<div class="t" style="left:595.60px;top:78.27px;width:26.90px;height:12.00px;line-height:12.00px;font-size:6.45px;color:#e8202a;text-align:right;">-4.22%</div>
<div class="t" style="left:626.50px;top:78.27px;width:26.00px;height:12.00px;line-height:12.00px;font-size:6.45px;color:#e8202a;text-align:right;">-2.71%</div>
<div class="t" style="left:657.40px;top:78.27px;width:28.10px;height:12.00px;line-height:12.00px;font-size:6.45px;color:#12a65a;text-align:right;">+26.89%</div>
<div class="t" style="left:690.50px;top:78.27px;width:29.70px;height:12.00px;line-height:12.00px;font-size:6.45px;color:#e8202a;text-align:right;">-45.87%</div>
<div class="t" style="left:724.50px;top:78.27px;width:29.40px;height:12.00px;line-height:12.00px;font-size:6.45px;color:#e8202a;text-align:right;">-30.47%</div>
<div class="t" style="left:420.20px;top:92.01px;width:64.30px;height:12.00px;line-height:12.00px;font-size:6.35px;color:#12275a;text-align:left;transform:scaleX(1.14);transform-origin:left center;">Gold $/Oz</div>
<div class="t" style="left:484.50px;top:91.99px;width:19.60px;height:12.00px;line-height:12.00px;font-size:6.4px;color:#12275a;text-align:right;">USD</div>
<div class="t" style="left:505.50px;top:92.18px;width:32.00px;height:12.00px;line-height:12.00px;font-size:5.85px;color:#12275a;text-align:center;">17/06/2016</div>
<div class="t" style="left:537.50px;top:91.92px;width:24.50px;height:12.00px;line-height:12.00px;font-size:6.6px;color:#12275a;text-align:right;">1,288</div>
<div class="t" style="left:565.50px;top:91.97px;width:25.40px;height:12.00px;line-height:12.00px;font-size:6.45px;color:#12a65a;text-align:right;">+0.78%</div>
<div class="t" style="left:595.60px;top:91.97px;width:26.90px;height:12.00px;line-height:12.00px;font-size:6.45px;color:#12a65a;text-align:right;">+1.14%</div>
<div class="t" style="left:626.50px;top:91.97px;width:26.00px;height:12.00px;line-height:12.00px;font-size:6.45px;color:#12a65a;text-align:right;">+0.74%</div>
<div class="t" style="left:657.40px;top:91.97px;width:28.10px;height:12.00px;line-height:12.00px;font-size:6.45px;color:#12a65a;text-align:right;">+21.39%</div>
<div class="t" style="left:690.50px;top:91.97px;width:29.70px;height:12.00px;line-height:12.00px;font-size:6.45px;color:#e8202a;text-align:right;">-1.72%</div>
<div class="t" style="left:724.50px;top:91.97px;width:29.40px;height:12.00px;line-height:12.00px;font-size:6.45px;color:#e8202a;text-align:right;">-10.42%</div>
<div class="t" style="left:420.20px;top:105.31px;width:64.30px;height:12.00px;line-height:12.00px;font-size:6.35px;color:#12275a;text-align:left;">CRB Commodity</div>
<div class="t" style="left:484.50px;top:105.29px;width:19.60px;height:12.00px;line-height:12.00px;font-size:6.4px;color:#12275a;text-align:right;">USD</div>
<div class="t" style="left:505.50px;top:105.48px;width:32.00px;height:12.00px;line-height:12.00px;font-size:5.85px;color:#12275a;text-align:center;">17/06/2016</div>
<div class="t" style="left:537.50px;top:105.22px;width:24.50px;height:12.00px;line-height:12.00px;font-size:6.6px;color:#12275a;text-align:right;">189</div>
<div class="t" style="left:565.50px;top:105.27px;width:25.40px;height:12.00px;line-height:12.00px;font-size:6.45px;color:#e8202a;text-align:right;">-1.48%</div>
<div class="t" style="left:595.60px;top:105.27px;width:26.90px;height:12.00px;line-height:12.00px;font-size:6.45px;color:#e8202a;text-align:right;">-3.19%</div>
<div class="t" style="left:626.50px;top:105.27px;width:26.00px;height:12.00px;line-height:12.00px;font-size:6.45px;color:#12a65a;text-align:right;">+1.03%</div>
<div class="t" style="left:657.40px;top:105.27px;width:28.10px;height:12.00px;line-height:12.00px;font-size:6.45px;color:#12a65a;text-align:right;">+7.24%</div>
<div class="t" style="left:690.50px;top:105.27px;width:29.70px;height:12.00px;line-height:12.00px;font-size:6.45px;color:#e8202a;text-align:right;">-17.92%</div>
<div class="t" style="left:724.50px;top:105.27px;width:29.40px;height:12.00px;line-height:12.00px;font-size:6.45px;color:#e8202a;text-align:right;">-23.40%</div>
<div class="t" style="left:420.20px;top:118.01px;width:64.30px;height:12.00px;line-height:12.00px;font-size:6.35px;color:#12275a;text-align:left;">London Metal</div>
<div class="t" style="left:484.50px;top:117.99px;width:19.60px;height:12.00px;line-height:12.00px;font-size:6.4px;color:#12275a;text-align:right;">USD</div>
<div class="t" style="left:505.50px;top:118.18px;width:32.00px;height:12.00px;line-height:12.00px;font-size:5.85px;color:#12275a;text-align:center;">16/06/2016</div>
<div class="t" style="left:537.50px;top:117.92px;width:24.50px;height:12.00px;line-height:12.00px;font-size:6.6px;color:#12275a;text-align:right;">2,250</div>
<div class="t" style="left:565.50px;top:117.97px;width:25.40px;height:12.00px;line-height:12.00px;font-size:6.45px;color:#e8202a;text-align:right;">-1.76%</div>
<div class="t" style="left:595.60px;top:117.97px;width:26.90px;height:12.00px;line-height:12.00px;font-size:6.45px;color:#12a65a;text-align:right;">+0.18%</div>
<div class="t" style="left:626.50px;top:117.97px;width:26.00px;height:12.00px;line-height:12.00px;font-size:6.45px;color:#12a65a;text-align:right;">+0.01%</div>
<div class="t" style="left:657.40px;top:117.97px;width:28.10px;height:12.00px;line-height:12.00px;font-size:6.45px;color:#12a65a;text-align:right;">+2.11%</div>
<div class="t" style="left:690.50px;top:117.97px;width:29.70px;height:12.00px;line-height:12.00px;font-size:6.45px;color:#e8202a;text-align:right;">-7.75%</div>
<div class="t" style="left:724.50px;top:117.97px;width:29.40px;height:12.00px;line-height:12.00px;font-size:6.45px;color:#e8202a;text-align:right;">-24.40%</div>
<div class="t" style="left:420.20px;top:130.81px;width:64.30px;height:12.00px;line-height:12.00px;font-size:6.35px;color:#12275a;text-align:left;">Vix</div>
<div class="t" style="left:484.50px;top:130.79px;width:19.60px;height:12.00px;line-height:12.00px;font-size:6.4px;color:#12275a;text-align:right;">USD</div>
<div class="t" style="left:505.50px;top:130.98px;width:32.00px;height:12.00px;line-height:12.00px;font-size:5.85px;color:#12275a;text-align:center;">17/06/2016</div>
<div class="t" style="left:537.50px;top:130.72px;width:24.50px;height:12.00px;line-height:12.00px;font-size:6.6px;color:#12275a;text-align:right;">19.7</div>
<div class="t" style="left:565.50px;top:130.77px;width:25.40px;height:12.00px;line-height:12.00px;font-size:6.45px;color:#12a65a;text-align:right;">+1.69%</div>
<div class="t" style="left:595.60px;top:130.77px;width:26.90px;height:12.00px;line-height:12.00px;font-size:6.45px;color:#12a65a;text-align:right;">+15.56%</div>
<div class="t" style="left:626.50px;top:130.77px;width:26.00px;height:12.00px;line-height:12.00px;font-size:6.45px;color:#12a65a;text-align:right;">+26.40%</div>
<div class="t" style="left:657.40px;top:130.77px;width:28.10px;height:12.00px;line-height:12.00px;font-size:6.45px;color:#12a65a;text-align:right;">+8.07%</div>
<div class="t" style="left:690.50px;top:130.77px;width:29.70px;height:12.00px;line-height:12.00px;font-size:6.45px;color:#12a65a;text-align:right;">+39.94%</div>
<div class="t" style="left:724.50px;top:130.77px;width:29.40px;height:12.00px;line-height:12.00px;font-size:6.45px;color:#e8202a;text-align:right;">-5.16%</div>
<div class="t" style="left:2.00px;top:161.00px;width:218.00px;height:14.00px;line-height:14.00px;font-size:11.1px;color:#fff;text-align:left;text-decoration:underline;text-underline-offset:0.7px;text-decoration-thickness:0.8px;">OBBLIGAZIONI - tassi e spread</div>
<div class="t" style="left:1.00px;top:175.60px;width:110.20px;height:10.00px;line-height:10.00px;font-size:7.2px;color:#fff;text-align:center;"><i>Tassi</i></div>
<div class="t" style="left:111.20px;top:175.60px;width:32.40px;height:10.00px;line-height:10.00px;font-size:6.9px;color:#fff;text-align:center;">Date</div>
<div class="t" style="left:143.60px;top:175.60px;width:30.90px;height:10.00px;line-height:10.00px;font-size:6.9px;color:#fff;text-align:center;">Last</div>
<div class="t" style="left:174.50px;top:175.60px;width:34.90px;height:10.00px;line-height:10.00px;font-size:6.4px;color:#fff;text-align:center;">16-giu-16</div>
<div class="t" style="left:209.40px;top:175.60px;width:30.10px;height:10.00px;line-height:10.00px;font-size:6.4px;color:#fff;text-align:center;">10-giu-16</div>
<div class="t" style="left:239.50px;top:175.60px;width:34.00px;height:10.00px;line-height:10.00px;font-size:5.9px;color:#fff;text-align:center;">6-mag-16</div>
<div class="t" style="left:273.50px;top:175.60px;width:40.00px;height:10.00px;line-height:10.00px;font-size:5.9px;color:#fff;text-align:center;">31-dic-15</div>
<div class="t" style="left:313.50px;top:175.60px;width:39.90px;height:10.00px;line-height:10.00px;font-size:5.9px;color:#fff;text-align:center;">31-dic-14</div>
<div class="t" style="left:353.40px;top:175.60px;width:51.10px;height:10.00px;line-height:10.00px;font-size:5.9px;color:#fff;text-align:center;">31-dic-13</div>
<div class="t" style="left:1.00px;top:187.39px;width:92.50px;height:12.00px;line-height:12.00px;font-size:6.1px;color:#12275a;text-align:center;">2y germania</div>
<div class="t" style="left:93.50px;top:187.29px;width:17.70px;height:12.00px;line-height:12.00px;font-size:6.4px;color:#12275a;text-align:center;">EUR</div>
<div class="t" style="left:111.20px;top:187.48px;width:32.40px;height:12.00px;line-height:12.00px;font-size:5.85px;color:#12275a;text-align:center;">17/06/2016</div>
<div class="t" style="left:146.40px;top:187.42px;width:6.20px;height:12.00px;line-height:12.00px;font-size:6px;color:#7a859c;text-align:left;">-</div>
<div class="t" style="left:143.60px;top:187.22px;width:27.20px;height:12.00px;line-height:12.00px;font-size:6.6px;color:#12275a;text-align:right;">0.600</div>
<div class="t" style="left:174.50px;top:187.22px;width:33.50px;height:12.00px;line-height:12.00px;font-size:6.6px;color:#12275a;text-align:right;">-0.604</div>
<div class="t" style="left:209.40px;top:187.22px;width:28.70px;height:12.00px;line-height:12.00px;font-size:6.6px;color:#12275a;text-align:right;">-0.545</div>
<div class="t" style="left:239.50px;top:187.22px;width:32.60px;height:12.00px;line-height:12.00px;font-size:6.6px;color:#12275a;text-align:right;">-0.515</div>
<div class="t" style="left:273.50px;top:187.22px;width:38.60px;height:12.00px;line-height:12.00px;font-size:6.6px;color:#12275a;text-align:right;">-0.345</div>
<div class="t" style="left:313.50px;top:187.22px;width:38.50px;height:12.00px;line-height:12.00px;font-size:6.6px;color:#12275a;text-align:right;">-0.098</div>
<div class="t" style="left:353.40px;top:187.22px;width:49.70px;height:12.00px;line-height:12.00px;font-size:6.6px;color:#12275a;text-align:right;">0.213</div>
<div class="t" style="left:1.00px;top:200.39px;width:92.50px;height:12.00px;line-height:12.00px;font-size:6.1px;color:#12275a;text-align:center;">5y germania</div>
<div class="t" style="left:93.50px;top:200.29px;width:17.70px;height:12.00px;line-height:12.00px;font-size:6.4px;color:#12275a;text-align:center;">EUR</div>
<div class="t" style="left:111.20px;top:200.48px;width:32.40px;height:12.00px;line-height:12.00px;font-size:5.85px;color:#12275a;text-align:center;">17/06/2016</div>
<div class="t" style="left:146.40px;top:200.42px;width:6.20px;height:12.00px;line-height:12.00px;font-size:6px;color:#7a859c;text-align:left;">-</div>
<div class="t" style="left:143.60px;top:200.22px;width:27.20px;height:12.00px;line-height:12.00px;font-size:6.6px;color:#12275a;text-align:right;">0.497</div>
<div class="t" style="left:174.50px;top:200.22px;width:33.50px;height:12.00px;line-height:12.00px;font-size:6.6px;color:#12275a;text-align:right;">-0.500</div>
<div class="t" style="left:209.40px;top:200.22px;width:28.70px;height:12.00px;line-height:12.00px;font-size:6.6px;color:#12275a;text-align:right;">-0.428</div>
<div class="t" style="left:239.50px;top:200.22px;width:32.60px;height:12.00px;line-height:12.00px;font-size:6.6px;color:#12275a;text-align:right;">-0.375</div>
<div class="t" style="left:273.50px;top:200.22px;width:38.60px;height:12.00px;line-height:12.00px;font-size:6.6px;color:#12275a;text-align:right;">-0.045</div>
<div class="t" style="left:313.50px;top:200.22px;width:38.50px;height:12.00px;line-height:12.00px;font-size:6.6px;color:#12275a;text-align:right;">0.017</div>
<div class="t" style="left:353.40px;top:200.22px;width:49.70px;height:12.00px;line-height:12.00px;font-size:6.6px;color:#12275a;text-align:right;">0.922</div>
<div class="t" style="left:1.00px;top:212.89px;width:92.50px;height:12.00px;line-height:12.00px;font-size:6.1px;color:#12275a;text-align:center;">10y germania</div>
<div class="t" style="left:93.50px;top:212.79px;width:17.70px;height:12.00px;line-height:12.00px;font-size:6.4px;color:#12275a;text-align:center;">EUR</div>
<div class="t" style="left:111.20px;top:212.98px;width:32.40px;height:12.00px;line-height:12.00px;font-size:5.85px;color:#12275a;text-align:center;">17/06/2016</div>
<div class="t" style="left:143.60px;top:212.72px;width:27.20px;height:12.00px;line-height:12.00px;font-size:6.6px;color:#12275a;text-align:right;">0.006</div>
<div class="t" style="left:174.50px;top:212.72px;width:33.50px;height:12.00px;line-height:12.00px;font-size:6.6px;color:#12275a;text-align:right;">-0.024</div>
<div class="t" style="left:209.40px;top:212.72px;width:28.70px;height:12.00px;line-height:12.00px;font-size:6.6px;color:#12275a;text-align:right;">0.020</div>
<div class="t" style="left:239.50px;top:212.72px;width:32.60px;height:12.00px;line-height:12.00px;font-size:6.6px;color:#12275a;text-align:right;">0.144</div>
<div class="t" style="left:273.50px;top:212.72px;width:38.60px;height:12.00px;line-height:12.00px;font-size:6.6px;color:#12275a;text-align:right;">0.629</div>
<div class="t" style="left:313.50px;top:212.72px;width:38.50px;height:12.00px;line-height:12.00px;font-size:6.6px;color:#12275a;text-align:right;">0.541</div>
<div class="t" style="left:353.40px;top:212.72px;width:49.70px;height:12.00px;line-height:12.00px;font-size:6.6px;color:#12275a;text-align:right;">1.929</div>
<div class="t" style="left:1.00px;top:225.89px;width:92.50px;height:12.00px;line-height:12.00px;font-size:6.1px;color:#12275a;text-align:center;">2y italia</div>
<div class="t" style="left:93.50px;top:225.79px;width:17.70px;height:12.00px;line-height:12.00px;font-size:6.4px;color:#12275a;text-align:center;">EUR</div>
<div class="t" style="left:111.20px;top:225.98px;width:32.40px;height:12.00px;line-height:12.00px;font-size:5.85px;color:#12275a;text-align:center;">17/06/2016</div>
<div class="t" style="left:143.60px;top:225.72px;width:27.20px;height:12.00px;line-height:12.00px;font-size:6.6px;color:#12275a;text-align:right;">0.058</div>
<div class="t" style="left:174.50px;top:225.72px;width:33.50px;height:12.00px;line-height:12.00px;font-size:6.6px;color:#12275a;text-align:right;">0.095</div>
<div class="t" style="left:209.40px;top:225.72px;width:28.70px;height:12.00px;line-height:12.00px;font-size:6.6px;color:#12275a;text-align:right;">-0.041</div>
<div class="t" style="left:239.50px;top:225.72px;width:32.60px;height:12.00px;line-height:12.00px;font-size:6.6px;color:#12275a;text-align:right;">-0.055</div>
<div class="t" style="left:273.50px;top:225.72px;width:38.60px;height:12.00px;line-height:12.00px;font-size:6.6px;color:#12275a;text-align:right;">-0.030</div>
<div class="t" style="left:313.50px;top:225.72px;width:38.50px;height:12.00px;line-height:12.00px;font-size:6.6px;color:#12275a;text-align:right;">0.534</div>
<div class="t" style="left:353.40px;top:225.72px;width:49.70px;height:12.00px;line-height:12.00px;font-size:6.6px;color:#12275a;text-align:right;">1.257</div>
<div class="t" style="left:1.00px;top:238.99px;width:141.40px;height:12.00px;line-height:12.00px;font-size:7.0px;color:#12275a;text-align:right;transform:scaleX(1.06);transform-origin:right center;">Spread Vs Germania</div>
<div class="t" style="left:143.60px;top:238.95px;width:26.70px;height:12.00px;line-height:12.00px;font-size:7.1px;color:#12275a;text-align:right;">66</div>
<div class="t" style="left:174.50px;top:238.95px;width:30.70px;height:12.00px;line-height:12.00px;font-size:7.1px;color:#12275a;text-align:right;">70</div>
<div class="t" style="left:209.40px;top:238.95px;width:25.90px;height:12.00px;line-height:12.00px;font-size:7.1px;color:#12275a;text-align:right;">50</div>
<div class="t" style="left:239.50px;top:238.95px;width:29.80px;height:12.00px;line-height:12.00px;font-size:7.1px;color:#12275a;text-align:right;">46</div>
<div class="t" style="left:273.50px;top:238.95px;width:35.80px;height:12.00px;line-height:12.00px;font-size:7.1px;color:#12275a;text-align:right;">32</div>
<div class="t" style="left:313.50px;top:238.95px;width:35.70px;height:12.00px;line-height:12.00px;font-size:7.1px;color:#12275a;text-align:right;">63</div>
<div class="t" style="left:353.40px;top:238.95px;width:46.90px;height:12.00px;line-height:12.00px;font-size:7.1px;color:#12275a;text-align:right;">104</div>
<div class="t" style="left:1.00px;top:252.89px;width:92.50px;height:12.00px;line-height:12.00px;font-size:6.1px;color:#12275a;text-align:center;">5y italia</div>
<div class="t" style="left:93.50px;top:252.79px;width:17.70px;height:12.00px;line-height:12.00px;font-size:6.4px;color:#12275a;text-align:center;">EUR</div>
<div class="t" style="left:111.20px;top:252.98px;width:32.40px;height:12.00px;line-height:12.00px;font-size:5.85px;color:#12275a;text-align:center;">17/06/2016</div>
<div class="t" style="left:143.60px;top:252.72px;width:27.20px;height:12.00px;line-height:12.00px;font-size:6.6px;color:#12275a;text-align:right;">0.495</div>
<div class="t" style="left:174.50px;top:252.72px;width:33.50px;height:12.00px;line-height:12.00px;font-size:6.6px;color:#12275a;text-align:right;">0.526</div>
<div class="t" style="left:209.40px;top:252.72px;width:28.70px;height:12.00px;line-height:12.00px;font-size:6.6px;color:#12275a;text-align:right;">0.418</div>
<div class="t" style="left:239.50px;top:252.72px;width:32.60px;height:12.00px;line-height:12.00px;font-size:6.6px;color:#12275a;text-align:right;">0.365</div>
<div class="t" style="left:273.50px;top:252.72px;width:38.60px;height:12.00px;line-height:12.00px;font-size:6.6px;color:#12275a;text-align:right;">0.504</div>
<div class="t" style="left:313.50px;top:252.72px;width:38.50px;height:12.00px;line-height:12.00px;font-size:6.6px;color:#12275a;text-align:right;">0.952</div>
<div class="t" style="left:353.40px;top:252.72px;width:49.70px;height:12.00px;line-height:12.00px;font-size:6.6px;color:#12275a;text-align:right;">2.730</div>
<div class="t" style="left:1.00px;top:265.99px;width:141.40px;height:12.00px;line-height:12.00px;font-size:7.0px;color:#12275a;text-align:right;transform:scaleX(1.06);transform-origin:right center;">Spread Vs Germania</div>
<div class="t" style="left:143.60px;top:265.95px;width:26.70px;height:12.00px;line-height:12.00px;font-size:7.1px;color:#12275a;text-align:right;">99</div>
<div class="t" style="left:174.50px;top:265.95px;width:30.70px;height:12.00px;line-height:12.00px;font-size:7.1px;color:#12275a;text-align:right;">103</div>
<div class="t" style="left:209.40px;top:265.95px;width:25.90px;height:12.00px;line-height:12.00px;font-size:7.1px;color:#12275a;text-align:right;">85</div>
<div class="t" style="left:239.50px;top:265.95px;width:29.80px;height:12.00px;line-height:12.00px;font-size:7.1px;color:#12275a;text-align:right;">74</div>
<div class="t" style="left:273.50px;top:265.95px;width:35.80px;height:12.00px;line-height:12.00px;font-size:7.1px;color:#12275a;text-align:right;">55</div>
<div class="t" style="left:313.50px;top:265.95px;width:35.70px;height:12.00px;line-height:12.00px;font-size:7.1px;color:#12275a;text-align:right;">94</div>
<div class="t" style="left:353.40px;top:265.95px;width:46.90px;height:12.00px;line-height:12.00px;font-size:7.1px;color:#12275a;text-align:right;">181</div>
<div class="t" style="left:1.00px;top:278.89px;width:92.50px;height:12.00px;line-height:12.00px;font-size:6.1px;color:#12275a;text-align:center;">10y italia</div>
<div class="t" style="left:93.50px;top:278.79px;width:17.70px;height:12.00px;line-height:12.00px;font-size:6.4px;color:#12275a;text-align:center;">EUR</div>
<div class="t" style="left:111.20px;top:278.98px;width:32.40px;height:12.00px;line-height:12.00px;font-size:5.85px;color:#12275a;text-align:center;">17/06/2016</div>
<div class="t" style="left:143.60px;top:278.72px;width:27.20px;height:12.00px;line-height:12.00px;font-size:6.6px;color:#12275a;text-align:right;">1.511</div>
<div class="t" style="left:174.50px;top:278.72px;width:33.50px;height:12.00px;line-height:12.00px;font-size:6.6px;color:#12275a;text-align:right;">1.542</div>
<div class="t" style="left:209.40px;top:278.72px;width:28.70px;height:12.00px;line-height:12.00px;font-size:6.6px;color:#12275a;text-align:right;">1.383</div>
<div class="t" style="left:239.50px;top:278.72px;width:32.60px;height:12.00px;line-height:12.00px;font-size:6.6px;color:#12275a;text-align:right;">1.494</div>
<div class="t" style="left:273.50px;top:278.72px;width:38.60px;height:12.00px;line-height:12.00px;font-size:6.6px;color:#12275a;text-align:right;">1.596</div>
<div class="t" style="left:313.50px;top:278.72px;width:38.50px;height:12.00px;line-height:12.00px;font-size:6.6px;color:#12275a;text-align:right;">1.890</div>
<div class="t" style="left:353.40px;top:278.72px;width:49.70px;height:12.00px;line-height:12.00px;font-size:6.6px;color:#12275a;text-align:right;">4.125</div>
<div class="t" style="left:1.00px;top:291.99px;width:141.40px;height:12.00px;line-height:12.00px;font-size:7.0px;color:#12275a;text-align:right;transform:scaleX(1.06);transform-origin:right center;">Spread Vs Germania</div>
<div class="t" style="left:143.60px;top:291.95px;width:26.70px;height:12.00px;line-height:12.00px;font-size:7.1px;color:#12275a;text-align:right;">151</div>
<div class="t" style="left:174.50px;top:291.95px;width:30.70px;height:12.00px;line-height:12.00px;font-size:7.1px;color:#12275a;text-align:right;">157</div>
<div class="t" style="left:209.40px;top:291.95px;width:25.90px;height:12.00px;line-height:12.00px;font-size:7.1px;color:#12275a;text-align:right;">136</div>
<div class="t" style="left:239.50px;top:291.95px;width:29.80px;height:12.00px;line-height:12.00px;font-size:7.1px;color:#12275a;text-align:right;">135</div>
<div class="t" style="left:273.50px;top:291.95px;width:35.80px;height:12.00px;line-height:12.00px;font-size:7.1px;color:#12275a;text-align:right;">97</div>
<div class="t" style="left:313.50px;top:291.95px;width:35.70px;height:12.00px;line-height:12.00px;font-size:7.1px;color:#12275a;text-align:right;">135</div>
<div class="t" style="left:353.40px;top:291.95px;width:46.90px;height:12.00px;line-height:12.00px;font-size:7.1px;color:#12275a;text-align:right;">220</div>
<div class="t" style="left:1.00px;top:305.39px;width:92.50px;height:12.00px;line-height:12.00px;font-size:6.1px;color:#12275a;text-align:center;">2y usa</div>
<div class="t" style="left:93.50px;top:305.29px;width:17.70px;height:12.00px;line-height:12.00px;font-size:6.4px;color:#12275a;text-align:center;">USD</div>
<div class="t" style="left:111.20px;top:305.48px;width:32.40px;height:12.00px;line-height:12.00px;font-size:5.85px;color:#12275a;text-align:center;">17/06/2016</div>
<div class="t" style="left:143.60px;top:305.22px;width:27.20px;height:12.00px;line-height:12.00px;font-size:6.6px;color:#12275a;text-align:right;">0.693</div>
<div class="t" style="left:174.50px;top:305.22px;width:33.50px;height:12.00px;line-height:12.00px;font-size:6.6px;color:#12275a;text-align:right;">0.685</div>
<div class="t" style="left:209.40px;top:305.22px;width:28.70px;height:12.00px;line-height:12.00px;font-size:6.6px;color:#12275a;text-align:right;">0.727</div>
<div class="t" style="left:239.50px;top:305.22px;width:32.60px;height:12.00px;line-height:12.00px;font-size:6.6px;color:#12275a;text-align:right;">0.734</div>
<div class="t" style="left:273.50px;top:305.22px;width:38.60px;height:12.00px;line-height:12.00px;font-size:6.6px;color:#12275a;text-align:right;">1.048</div>
<div class="t" style="left:313.50px;top:305.22px;width:38.50px;height:12.00px;line-height:12.00px;font-size:6.6px;color:#12275a;text-align:right;">0.665</div>
<div class="t" style="left:353.40px;top:305.22px;width:49.70px;height:12.00px;line-height:12.00px;font-size:6.6px;color:#12275a;text-align:right;">0.380</div>
<div class="t" style="left:1.00px;top:318.69px;width:92.50px;height:12.00px;line-height:12.00px;font-size:6.1px;color:#12275a;text-align:center;">5y usa</div>
<div class="t" style="left:93.50px;top:318.59px;width:17.70px;height:12.00px;line-height:12.00px;font-size:6.4px;color:#12275a;text-align:center;">USD</div>
<div class="t" style="left:111.20px;top:318.78px;width:32.40px;height:12.00px;line-height:12.00px;font-size:5.85px;color:#12275a;text-align:center;">17/06/2016</div>
<div class="t" style="left:143.60px;top:318.52px;width:27.20px;height:12.00px;line-height:12.00px;font-size:6.6px;color:#12275a;text-align:right;">1.110</div>
<div class="t" style="left:174.50px;top:318.52px;width:33.50px;height:12.00px;line-height:12.00px;font-size:6.6px;color:#12275a;text-align:right;">1.091</div>
<div class="t" style="left:209.40px;top:318.52px;width:28.70px;height:12.00px;line-height:12.00px;font-size:6.6px;color:#12275a;text-align:right;">1.167</div>
<div class="t" style="left:239.50px;top:318.52px;width:32.60px;height:12.00px;line-height:12.00px;font-size:6.6px;color:#12275a;text-align:right;">1.229</div>
<div class="t" style="left:273.50px;top:318.52px;width:38.60px;height:12.00px;line-height:12.00px;font-size:6.6px;color:#12275a;text-align:right;">1.760</div>
<div class="t" style="left:313.50px;top:318.52px;width:38.50px;height:12.00px;line-height:12.00px;font-size:6.6px;color:#12275a;text-align:right;">1.653</div>
<div class="t" style="left:353.40px;top:318.52px;width:49.70px;height:12.00px;line-height:12.00px;font-size:6.6px;color:#12275a;text-align:right;">1.741</div>
<div class="t" style="left:1.00px;top:332.39px;width:92.50px;height:12.00px;line-height:12.00px;font-size:6.1px;color:#12275a;text-align:center;">10y usa</div>
<div class="t" style="left:93.50px;top:332.29px;width:17.70px;height:12.00px;line-height:12.00px;font-size:6.4px;color:#12275a;text-align:center;">USD</div>
<div class="t" style="left:111.20px;top:332.48px;width:32.40px;height:12.00px;line-height:12.00px;font-size:5.85px;color:#12275a;text-align:center;">17/06/2016</div>
<div class="t" style="left:143.60px;top:332.22px;width:27.20px;height:12.00px;line-height:12.00px;font-size:6.6px;color:#12275a;text-align:right;">1.603</div>
<div class="t" style="left:174.50px;top:332.22px;width:33.50px;height:12.00px;line-height:12.00px;font-size:6.6px;color:#12275a;text-align:right;">1.58</div>
<div class="t" style="left:209.40px;top:332.22px;width:28.70px;height:12.00px;line-height:12.00px;font-size:6.6px;color:#12275a;text-align:right;">1.64</div>
<div class="t" style="left:239.50px;top:332.22px;width:32.60px;height:12.00px;line-height:12.00px;font-size:6.6px;color:#12275a;text-align:right;">1.78</div>
<div class="t" style="left:273.50px;top:332.22px;width:38.60px;height:12.00px;line-height:12.00px;font-size:6.6px;color:#12275a;text-align:right;">2.27</div>
<div class="t" style="left:313.50px;top:332.22px;width:38.50px;height:12.00px;line-height:12.00px;font-size:6.6px;color:#12275a;text-align:right;">2.17</div>
<div class="t" style="left:353.40px;top:332.22px;width:49.70px;height:12.00px;line-height:12.00px;font-size:6.6px;color:#12275a;text-align:right;">3.03</div>
<div class="t" style="left:58.00px;top:347.25px;width:60.00px;height:12.00px;line-height:12.00px;font-size:6.8px;color:#12275a;text-align:center;">EURIBOR</div>
<div class="t" style="left:174.50px;top:345.35px;width:34.90px;height:12.00px;line-height:12.00px;font-size:6.4px;color:#fff;text-align:center;">15-giu-16</div>
<div class="t" style="left:209.40px;top:345.35px;width:30.10px;height:12.00px;line-height:12.00px;font-size:6.4px;color:#fff;text-align:center;">10-giu-16</div>
<div class="t" style="left:239.50px;top:345.35px;width:34.00px;height:12.00px;line-height:12.00px;font-size:5.9px;color:#fff;text-align:center;">6-mag-16</div>
<div class="t" style="left:273.50px;top:345.35px;width:40.00px;height:12.00px;line-height:12.00px;font-size:5.9px;color:#fff;text-align:center;">31-dic-15</div>
<div class="t" style="left:313.50px;top:345.35px;width:39.90px;height:12.00px;line-height:12.00px;font-size:5.9px;color:#fff;text-align:center;">31-dic-14</div>
<div class="t" style="left:353.40px;top:345.35px;width:51.10px;height:12.00px;line-height:12.00px;font-size:5.9px;color:#fff;text-align:center;">31-dic-13</div>
<div class="t" style="left:1.00px;top:358.39px;width:92.50px;height:12.00px;line-height:12.00px;font-size:6.1px;color:#12275a;text-align:center;">Euribor 1 mese</div>
<div class="t" style="left:93.50px;top:358.29px;width:17.70px;height:12.00px;line-height:12.00px;font-size:6.4px;color:#12275a;text-align:center;">EUR</div>
<div class="t" style="left:111.20px;top:358.48px;width:32.40px;height:12.00px;line-height:12.00px;font-size:5.85px;color:#12275a;text-align:center;">16/06/2016</div>
<div class="t" style="left:146.40px;top:358.43px;width:6.20px;height:12.00px;line-height:12.00px;font-size:6px;color:#7a859c;text-align:left;">-</div>
<div class="t" style="left:143.60px;top:358.22px;width:27.20px;height:12.00px;line-height:12.00px;font-size:6.6px;color:#12275a;text-align:right;">0.356</div>
<div class="t" style="left:174.50px;top:358.22px;width:33.50px;height:12.00px;line-height:12.00px;font-size:6.6px;color:#12275a;text-align:right;">-0.353</div>
<div class="t" style="left:209.40px;top:358.22px;width:28.70px;height:12.00px;line-height:12.00px;font-size:6.6px;color:#12275a;text-align:right;">-0.353</div>
<div class="t" style="left:239.50px;top:358.22px;width:32.60px;height:12.00px;line-height:12.00px;font-size:6.6px;color:#12275a;text-align:right;">-0.348</div>
<div class="t" style="left:273.50px;top:358.22px;width:38.60px;height:12.00px;line-height:12.00px;font-size:6.6px;color:#12275a;text-align:right;">-0.205</div>
<div class="t" style="left:313.50px;top:358.22px;width:38.50px;height:12.00px;line-height:12.00px;font-size:6.6px;color:#12275a;text-align:right;">0.018</div>
<div class="t" style="left:353.40px;top:358.22px;width:49.70px;height:12.00px;line-height:12.00px;font-size:6.6px;color:#12275a;text-align:right;">0.216</div>
<div class="t" style="left:1.00px;top:371.39px;width:92.50px;height:12.00px;line-height:12.00px;font-size:6.1px;color:#12275a;text-align:center;">Euribor 3 mesi</div>
<div class="t" style="left:93.50px;top:371.29px;width:17.70px;height:12.00px;line-height:12.00px;font-size:6.4px;color:#12275a;text-align:center;">EUR</div>
<div class="t" style="left:111.20px;top:371.48px;width:32.40px;height:12.00px;line-height:12.00px;font-size:5.85px;color:#12275a;text-align:center;">16/06/2016</div>
<div class="t" style="left:146.40px;top:371.43px;width:6.20px;height:12.00px;line-height:12.00px;font-size:6px;color:#7a859c;text-align:left;">-</div>
<div class="t" style="left:143.60px;top:371.22px;width:27.20px;height:12.00px;line-height:12.00px;font-size:6.6px;color:#12275a;text-align:right;">0.264</div>
<div class="t" style="left:174.50px;top:371.22px;width:33.50px;height:12.00px;line-height:12.00px;font-size:6.6px;color:#12275a;text-align:right;">-0.262</div>
<div class="t" style="left:209.40px;top:371.22px;width:28.70px;height:12.00px;line-height:12.00px;font-size:6.6px;color:#12275a;text-align:right;">-0.263</div>
<div class="t" style="left:239.50px;top:371.22px;width:32.60px;height:12.00px;line-height:12.00px;font-size:6.6px;color:#12275a;text-align:right;">-0.256</div>
<div class="t" style="left:273.50px;top:371.22px;width:38.60px;height:12.00px;line-height:12.00px;font-size:6.6px;color:#12275a;text-align:right;">-0.131</div>
<div class="t" style="left:313.50px;top:371.22px;width:38.50px;height:12.00px;line-height:12.00px;font-size:6.6px;color:#12275a;text-align:right;">0.078</div>
<div class="t" style="left:353.40px;top:371.22px;width:49.70px;height:12.00px;line-height:12.00px;font-size:6.6px;color:#12275a;text-align:right;">0.287</div>
<div class="t" style="left:1.00px;top:384.89px;width:92.50px;height:12.00px;line-height:12.00px;font-size:6.1px;color:#12275a;text-align:center;">Euribor 6 mesi</div>
<div class="t" style="left:93.50px;top:384.79px;width:17.70px;height:12.00px;line-height:12.00px;font-size:6.4px;color:#12275a;text-align:center;">EUR</div>
<div class="t" style="left:111.20px;top:384.98px;width:32.40px;height:12.00px;line-height:12.00px;font-size:5.85px;color:#12275a;text-align:center;">16/06/2016</div>
<div class="t" style="left:146.40px;top:384.93px;width:6.20px;height:12.00px;line-height:12.00px;font-size:6px;color:#7a859c;text-align:left;">-</div>
<div class="t" style="left:143.60px;top:384.72px;width:27.20px;height:12.00px;line-height:12.00px;font-size:6.6px;color:#12275a;text-align:right;">0.160</div>
<div class="t" style="left:174.50px;top:384.72px;width:33.50px;height:12.00px;line-height:12.00px;font-size:6.6px;color:#12275a;text-align:right;">-0.159</div>
<div class="t" style="left:209.40px;top:384.72px;width:28.70px;height:12.00px;line-height:12.00px;font-size:6.6px;color:#12275a;text-align:right;">-0.159</div>
<div class="t" style="left:239.50px;top:384.72px;width:32.60px;height:12.00px;line-height:12.00px;font-size:6.6px;color:#12275a;text-align:right;">-0.144</div>
<div class="t" style="left:273.50px;top:384.72px;width:38.60px;height:12.00px;line-height:12.00px;font-size:6.6px;color:#12275a;text-align:right;">-0.040</div>
<div class="t" style="left:313.50px;top:384.72px;width:38.50px;height:12.00px;line-height:12.00px;font-size:6.6px;color:#12275a;text-align:right;">0.171</div>
<div class="t" style="left:353.40px;top:384.72px;width:49.70px;height:12.00px;line-height:12.00px;font-size:6.6px;color:#12275a;text-align:right;">0.389</div>
<div class="t" style="left:1.00px;top:398.19px;width:92.50px;height:12.00px;line-height:12.00px;font-size:6.1px;color:#12275a;text-align:center;">Euribor 12 mesi</div>
<div class="t" style="left:93.50px;top:398.09px;width:17.70px;height:12.00px;line-height:12.00px;font-size:6.4px;color:#12275a;text-align:center;">EUR</div>
<div class="t" style="left:111.20px;top:398.28px;width:32.40px;height:12.00px;line-height:12.00px;font-size:5.85px;color:#12275a;text-align:center;">16/06/2016</div>
<div class="t" style="left:146.40px;top:398.23px;width:6.20px;height:12.00px;line-height:12.00px;font-size:6px;color:#7a859c;text-align:left;">-</div>
<div class="t" style="left:143.60px;top:398.02px;width:27.20px;height:12.00px;line-height:12.00px;font-size:6.6px;color:#12275a;text-align:right;">0.026</div>
<div class="t" style="left:174.50px;top:398.02px;width:33.50px;height:12.00px;line-height:12.00px;font-size:6.6px;color:#12275a;text-align:right;">-0.021</div>
<div class="t" style="left:209.40px;top:398.02px;width:28.70px;height:12.00px;line-height:12.00px;font-size:6.6px;color:#12275a;text-align:right;">-0.018</div>
<div class="t" style="left:239.50px;top:398.02px;width:32.60px;height:12.00px;line-height:12.00px;font-size:6.6px;color:#12275a;text-align:right;">-0.013</div>
<div class="t" style="left:273.50px;top:398.02px;width:38.60px;height:12.00px;line-height:12.00px;font-size:6.6px;color:#12275a;text-align:right;">0.060</div>
<div class="t" style="left:313.50px;top:398.02px;width:38.50px;height:12.00px;line-height:12.00px;font-size:6.6px;color:#12275a;text-align:right;">0.325</div>
<div class="t" style="left:353.40px;top:398.02px;width:49.70px;height:12.00px;line-height:12.00px;font-size:6.6px;color:#12275a;text-align:right;">0.556</div>
<div class="t" style="left:419.50px;top:183.35px;width:24.00px;height:8.00px;line-height:8.00px;font-size:4.7px;color:#13265a;text-align:right;font-family:'Liberation Sans',sans-serif;-webkit-text-stroke:0.2px;">3.00%</div>
<div class="t" style="left:419.50px;top:207.35px;width:24.00px;height:8.00px;line-height:8.00px;font-size:4.7px;color:#13265a;text-align:right;font-family:'Liberation Sans',sans-serif;-webkit-text-stroke:0.2px;">2.50%</div>
<div class="t" style="left:419.50px;top:231.35px;width:24.00px;height:8.00px;line-height:8.00px;font-size:4.7px;color:#13265a;text-align:right;font-family:'Liberation Sans',sans-serif;-webkit-text-stroke:0.2px;">2.00%</div>
<div class="t" style="left:419.50px;top:255.35px;width:24.00px;height:8.00px;line-height:8.00px;font-size:4.7px;color:#13265a;text-align:right;font-family:'Liberation Sans',sans-serif;-webkit-text-stroke:0.2px;">1.50%</div>
<div class="t" style="left:419.50px;top:279.35px;width:24.00px;height:8.00px;line-height:8.00px;font-size:4.7px;color:#13265a;text-align:right;font-family:'Liberation Sans',sans-serif;-webkit-text-stroke:0.2px;">1.00%</div>
<div class="t" style="left:419.50px;top:303.35px;width:24.00px;height:8.00px;line-height:8.00px;font-size:4.7px;color:#13265a;text-align:right;font-family:'Liberation Sans',sans-serif;-webkit-text-stroke:0.2px;">0.50%</div>
<div class="t" style="left:419.50px;top:327.35px;width:24.00px;height:8.00px;line-height:8.00px;font-size:4.7px;color:#13265a;text-align:right;font-family:'Liberation Sans',sans-serif;-webkit-text-stroke:0.2px;">0.00%</div>
<div class="t" style="left:419.50px;top:351.35px;width:24.00px;height:8.00px;line-height:8.00px;font-size:4.7px;color:#13265a;text-align:right;font-family:'Liberation Sans',sans-serif;-webkit-text-stroke:0.2px;">-0.50%</div>
<div class="t" style="left:419.50px;top:375.35px;width:24.00px;height:8.00px;line-height:8.00px;font-size:4.7px;color:#13265a;text-align:right;font-family:'Liberation Sans',sans-serif;-webkit-text-stroke:0.2px;">-1.00%</div>
<div class="t" style="left:442.63px;top:334.00px;width:20.00px;height:8.00px;line-height:8.00px;font-size:4.5px;color:#13265a;text-align:center;font-family:'Liberation Sans',sans-serif;-webkit-text-stroke:0.2px;">3M</div>
<div class="t" style="left:461.15px;top:334.00px;width:20.00px;height:8.00px;line-height:8.00px;font-size:4.5px;color:#13265a;text-align:center;font-family:'Liberation Sans',sans-serif;-webkit-text-stroke:0.2px;">2Y</div>
<div class="t" style="left:479.66px;top:334.00px;width:20.00px;height:8.00px;line-height:8.00px;font-size:4.5px;color:#13265a;text-align:center;font-family:'Liberation Sans',sans-serif;-webkit-text-stroke:0.2px;">4Y</div>
<div class="t" style="left:498.18px;top:334.00px;width:20.00px;height:8.00px;line-height:8.00px;font-size:4.5px;color:#13265a;text-align:center;font-family:'Liberation Sans',sans-serif;-webkit-text-stroke:0.2px;">6Y</div>
<div class="t" style="left:516.69px;top:334.00px;width:20.00px;height:8.00px;line-height:8.00px;font-size:4.5px;color:#13265a;text-align:center;font-family:'Liberation Sans',sans-serif;-webkit-text-stroke:0.2px;">8Y</div>
<div class="t" style="left:535.21px;top:334.00px;width:20.00px;height:8.00px;line-height:8.00px;font-size:4.5px;color:#13265a;text-align:center;font-family:'Liberation Sans',sans-serif;-webkit-text-stroke:0.2px;">10Y</div>
<div class="t" style="left:553.73px;top:334.00px;width:20.00px;height:8.00px;line-height:8.00px;font-size:4.5px;color:#13265a;text-align:center;font-family:'Liberation Sans',sans-serif;-webkit-text-stroke:0.2px;">12Y</div>
<div class="t" style="left:572.24px;top:334.00px;width:20.00px;height:8.00px;line-height:8.00px;font-size:4.5px;color:#13265a;text-align:center;font-family:'Liberation Sans',sans-serif;-webkit-text-stroke:0.2px;">14Y</div>
<div class="t" style="left:590.76px;top:334.00px;width:20.00px;height:8.00px;line-height:8.00px;font-size:4.5px;color:#13265a;text-align:center;font-family:'Liberation Sans',sans-serif;-webkit-text-stroke:0.2px;">16Y</div>
<div class="t" style="left:609.27px;top:334.00px;width:20.00px;height:8.00px;line-height:8.00px;font-size:4.5px;color:#13265a;text-align:center;font-family:'Liberation Sans',sans-serif;-webkit-text-stroke:0.2px;">18Y</div>
<div class="t" style="left:627.79px;top:334.00px;width:20.00px;height:8.00px;line-height:8.00px;font-size:4.5px;color:#13265a;text-align:center;font-family:'Liberation Sans',sans-serif;-webkit-text-stroke:0.2px;">20Y</div>
<div class="t" style="left:646.31px;top:334.00px;width:20.00px;height:8.00px;line-height:8.00px;font-size:4.5px;color:#13265a;text-align:center;font-family:'Liberation Sans',sans-serif;-webkit-text-stroke:0.2px;">22Y</div>
<div class="t" style="left:664.82px;top:334.00px;width:20.00px;height:8.00px;line-height:8.00px;font-size:4.5px;color:#13265a;text-align:center;font-family:'Liberation Sans',sans-serif;-webkit-text-stroke:0.2px;">24Y</div>
<div class="t" style="left:683.34px;top:334.00px;width:20.00px;height:8.00px;line-height:8.00px;font-size:4.5px;color:#13265a;text-align:center;font-family:'Liberation Sans',sans-serif;-webkit-text-stroke:0.2px;">26Y</div>
<div class="t" style="left:701.85px;top:334.00px;width:20.00px;height:8.00px;line-height:8.00px;font-size:4.5px;color:#13265a;text-align:center;font-family:'Liberation Sans',sans-serif;-webkit-text-stroke:0.2px;">28Y</div>
<div class="t" style="left:720.37px;top:334.00px;width:20.00px;height:8.00px;line-height:8.00px;font-size:4.5px;color:#13265a;text-align:center;font-family:'Liberation Sans',sans-serif;-webkit-text-stroke:0.2px;">30Y</div>
<div class="t" style="left:532.50px;top:168.20px;width:100.00px;height:12.00px;line-height:12.00px;font-size:8.7px;color:#17305f;text-align:center;font-family:'Liberation Sans',sans-serif;">Rendimenti</div>
<div class="t" style="left:505.00px;top:385.10px;width:60.00px;height:8.00px;line-height:8.00px;font-size:4.5px;color:#13265a;text-align:left;font-family:'Liberation Sans',sans-serif;-webkit-text-stroke:0.15px;">ITALY</div>
<div class="t" style="left:541.50px;top:385.10px;width:60.00px;height:8.00px;line-height:8.00px;font-size:4.5px;color:#13265a;text-align:left;font-family:'Liberation Sans',sans-serif;-webkit-text-stroke:0.15px;">GERMANY</div>
<div class="t" style="left:588.80px;top:385.10px;width:60.00px;height:8.00px;line-height:8.00px;font-size:4.5px;color:#13265a;text-align:left;font-family:'Liberation Sans',sans-serif;-webkit-text-stroke:0.15px;">ITALY dic-15</div>
<div class="t" style="left:640.00px;top:385.10px;width:60.00px;height:8.00px;line-height:8.00px;font-size:4.5px;color:#13265a;text-align:left;font-family:'Liberation Sans',sans-serif;-webkit-text-stroke:0.15px;">GERMANY dic-15</div>
</div>
</body></html>
